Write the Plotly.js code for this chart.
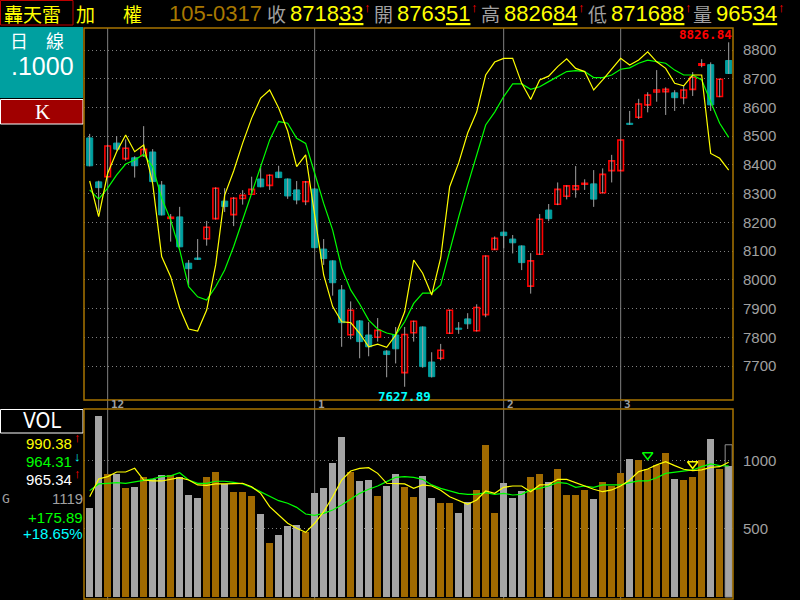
<!DOCTYPE html>
<html><head><meta charset="utf-8">
<script src="https://cdn.plot.ly/plotly-3.0.1.min.js"></script>
<style>html,body{margin:0;padding:0;background:#000;}#chart{width:800px;height:600px;}</style>
</head><body><div id="chart"></div>
<script>
// ---- data ----
const opens  = [8494,8341,8359,8476,8422,8425,8432,8445,8330,8214,8219,8058,8076,8143,8213,8274,8227,8283,8298,8351,8329,8375,8351,8313,8273,8316,8107,8066,7965,7809,7857,7808,7800,7752,7808,7677,7816,7836,7714,7727,7814,7832,7864,7823,7879,8106,8166,8142,8118,7978,8089,8243,8263,8291,8315,8333,8334,8303,8380,8380,8545,8566,8609,8654,8655,8651,8634,8663,8747,8749,8638,8763.51];
const highs  = [8508,8345,8470,8500,8489,8430,8535,8455,8344,8229,8254,8069,8142,8205,8322,8319,8288,8312,8359,8397,8367,8397,8353,8344,8344,8320,8142,8068,7982,7925,7860,7853,7867,7755,7836,7836,7858,7838,7748,7777,7896,7853,7884,7915,8085,8151,8168,8156,8120,8093,8229,8264,8339,8329,8396,8350,8382,8388,8435,8489,8588,8630,8653,8730,8670,8660,8678,8723,8768,8757,8700,8826.84];
const lows   = [8395,8237,8355,8450,8415,8356,8428,8340,8224,8133,8113,7980,8070,8119,8210,8236,8187,8262,8296,8322,8313,8354,8282,8263,8260,8110,8052,7945,7767,7793,7727,7734,7785,7661,7709,7627.89,7785,7694,7660,7720,7812,7812,7829,7820,7870,8104,8110,8092,8034,7952,8087,8204,8260,8280,8286,8313,8254,8301,8339,8378,8540,8560,8583,8620,8574,8588,8611,8640,8740,8588,8636,8716.88];
const closes = [8397,8321,8466,8455,8458,8397,8454,8342,8226,8218,8115,8039,8071,8183,8319,8255,8284,8294,8315,8324,8364,8356,8292,8278,8341,8112,8074,7990,7851,7894,7785,7767,7824,7740,7760,7810,7856,7698,7663,7755,7894,7828,7847,7904,8083,8145,8154,8129,8060,8066,8211,8213,8315,8327,8327,8336,8281,8367,8414,8487,8541,8612,8643,8661,8663,8634,8661,8705,8752,8609,8698,8718.33];
const lineYellow = [8344,8220,8371,8446,8504,8446,8469,8336,8081,8011,7902,7829,7822,7895,8052,8295,8379,8476,8563,8633,8661,8598,8518,8394,8435,8220,8017,7907,7854,7851,7814,7767,7776,7765,7808,7889,8069,8023,7947,8076,8324,8407,8511,8584,8713,8758,8771,8771,8684,8628,8696,8709,8742,8769,8736,8725,8661,8696,8733,8771,8748,8765,8794,8759,8736,8684,8675,8713,8713,8440,8423,8382];
const lineGreen  = [8313,8281,8319,8365,8403,8417,8437,8394,8284,8208,8104,7976,7941,7930,7976,8034,8116,8208,8301,8394,8487,8551,8545,8493,8475,8371,8266,8173,8041,7965,7916,7860,7829,7815,7808,7854,7918,7954,7954,7982,8104,8219,8330,8435,8539,8584,8638,8682,8682,8663,8672,8690,8707,8725,8728,8725,8704,8704,8713,8733,8738,8754,8765,8759,8754,8730,8713,8713,8696,8620,8545,8496];
const volumes = [657,1333,904,904,804,811,882,865,897,895,882,750,730,882,919,828,772,772,743,610,397,456,522,529,478,765,801,985,1176,922,853,860,743,819,904,809,735,890,728,691,691,618,699,787,1118,618,838,728,779,882,904,846,941,750,750,787,721,846,816,912,1015,1007,941,971,1059,868,860,882,1007,1162,943.11,965.34];
const volMA5  = [737,868,885,919,919,946,860,853,853,865,877,860,824,821,831,831,831,836,811,762,664,603,542,505,475,542,627,737,860,926,946,951,909,836,836,831,799,824,816,785,737,706,681,713,779,762,806,816,816,774,824,826,865,865,841,816,792,774,787,816,860,922,941,971,995,966,939,929,934,953,958,990.38];
const volMA10 = [782,831,836,841,836,846,860,868,885,890,914,860,836,836,851,851,843,831,806,774,737,708,689,659,610,600,615,640,676,718,762,792,816,848,880,885,880,865,824,799,782,762,755,755,767,755,762,750,755,787,799,816,843,836,806,816,806,824,824,824,841,853,853,877,909,917,922,934,958,978,966,964.31];
const volEstimate = 1119.00;
const signalIdx = [62, 67];
const signalVal = [1044, 978];
const signalColor = ['#00FF00', '#FFFF00'];
const monthIdx = [2, 25, 46, 59];
const monthLabels = ['12', '1', '2', '3'];
const priceTicks = [7700,7800,7900,8000,8100,8200,8300,8400,8500,8600,8700,8800];
const volTicks = [500, 1000];
const headerDate = '105-0317';

// ---- helpers ----
const X = px => px / 800;
const Y = py => 1 - py / 600;
const idx = opens.map((_, i) => i);
const CJK = '"Noto Sans CJK TC", "Noto Sans CJK SC", sans-serif';
const SANS = '"Liberation Sans", Arial, sans-serif';
const NARROW = '"Liberation Sans Narrow", "DejaVu Sans Condensed", "Liberation Sans", sans-serif';
const MONO = '"DejaVu Sans Mono", "Liberation Mono", monospace';
const GRAY = '#A0A0A0';
const BORDER = '#A87400';
const TEAL = '#00A0A0';

// wicks
const wx = [], wy = [];
idx.forEach(i => { wx.push(i, i, null); wy.push(lows[i], highs[i], null); });
const upI = idx.filter(i => closes[i] >= opens[i]);
const dnI = idx.filter(i => closes[i] < opens[i]);

const traces = [
  {type:'scatter', mode:'lines', x:wx, y:wy, xaxis:'x2', yaxis:'y2', line:{color:GRAY, width:1}, hoverinfo:'skip'},
  {type:'bar', x:upI, base:upI.map(i=>opens[i]), y:upI.map(i=>closes[i]-opens[i]), xaxis:'x2', yaxis:'y2', width:0.62,
   marker:{color:'#000000', line:{color:'#FF0000', width:1.6}}},
  {type:'bar', x:dnI, base:dnI.map(i=>closes[i]), y:dnI.map(i=>opens[i]-closes[i]), xaxis:'x2', yaxis:'y2', width:0.68,
   marker:{color:TEAL, line:{color:TEAL, width:1}}},
  {type:'scatter', mode:'lines', x:idx, y:lineGreen, xaxis:'x2', yaxis:'y2', line:{color:'#00FF00', width:1.2}},
  {type:'scatter', mode:'lines', x:idx, y:lineYellow, xaxis:'x2', yaxis:'y2', line:{color:'#FFFF00', width:1.2}},
  // volume
  {type:'bar', x:idx, y:volumes, xaxis:'x', yaxis:'y', width:0.78,
   marker:{color: idx.map(i => closes[i] >= opens[i] ? '#A06A00' : '#A4A4A4'), line:{width:0}}},
  {type:'bar', x:[idx.length-1], y:[volEstimate], xaxis:'x', yaxis:'y', width:0.78,
   marker:{color:'rgba(0,0,0,0)', line:{color:'#909090', width:1}}},
  {type:'scatter', mode:'lines', x:idx, y:volMA10, xaxis:'x', yaxis:'y', line:{color:'#00FF00', width:1.2}},
  {type:'scatter', mode:'lines', x:idx, y:volMA5, xaxis:'x', yaxis:'y', line:{color:'#FFFF00', width:1.2}},
  {type:'scatter', mode:'markers', x:signalIdx, y:signalVal, xaxis:'x', yaxis:'y',
   marker:{symbol:'triangle-down-open', size:9, color:signalColor, line:{color:signalColor, width:1.5}}}
];

const anns = [];
function ann(text, px, py, color, size, family, xanchor, bold) {
  anns.push({xref:'paper', yref:'paper', x:X(px), y:Y(py), text:text, showarrow:false,
    xanchor:xanchor||'left', yanchor:'middle', font:{color:color, size:size, family:family, weight: bold ? 'bold' : 'normal'}, borderpad:0});
}
function split(v) {
  const s = v.toFixed(2).replace('.', '');
  return s.slice(0, s.length-2) + '<u>' + s.slice(-2) + '</u>';
}
const L = idx.length - 1;
// header
ann('轟天雷', 3, 13, '#FFFF00', 19, CJK);
ann('加', 75, 13, '#FFFF00', 19, CJK);
ann('權', 122, 13, '#FFFF00', 19, CJK);
ann(headerDate, 168, 13, '#A87800', 22, SANS);
const hdr = [['收', closes[L], 266], ['開', opens[L], 373], ['高', highs[L], 480], ['低', lows[L], 587], ['量', volumes[L], 692]];
hdr.forEach(h => {
  ann(h[0], h[2], 13, GRAY, 19, CJK);
  const t = split(h[1]);
  const w = (h[1].toFixed(2).length - 1) * 12.2;
  ann(t, h[2] + 23, 13, '#FFFF00', 22, SANS);
  ann('↑', h[2] + 23 + w + 1, 7, '#FF0000', 13, SANS, 'left', true);
});
// left boxes
ann('日　線', 9, 40, '#FFFFFF', 18, CJK);
ann('.1000', 42, 66, '#FFFFFF', 25, SANS, 'center');
ann('K', 42, 112, '#FFFFFF', 21, '"Liberation Serif", serif', 'center');
ann('VOL', 42, 421, '#FFFFFF', 21, NARROW, 'center');
ann(volMA5[L].toFixed(2), 73, 443, '#FFFF00', 15, SANS, 'right');
ann('↑', 73, 437, '#FF0000', 13, SANS, 'left', true);
ann(volMA10[L].toFixed(2), 73, 461, '#00FF00', 15, SANS, 'right');
ann('↓', 73, 456, '#00FFFF', 13, SANS, 'left', true);
ann(volumes[L].toFixed(2), 73, 479, '#FFFFFF', 15, SANS, 'right');
ann('↑', 73, 473, '#FF0000', 13, SANS, 'left', true);
ann('G', 1, 498, GRAY, 13, MONO);
ann(String(Math.round(volEstimate)), 84, 498, GRAY, 15, SANS, 'right');
const diff = volEstimate - volumes[L-1];
ann('+' + diff.toFixed(2), 84, 517, '#00FF00', 15, SANS, 'right');
ann('+' + (diff / volumes[L-1] * 100).toFixed(2) + '%', 84, 533, '#00FFFF', 15, SANS, 'right');
// extreme labels
const hiMax = Math.max(...highs), loMin = Math.min(...lows);
anns.push({xref:'paper', yref:'y2', x:X(733), y:hiMax, text:hiMax.toFixed(2), showarrow:false, xanchor:'right', yanchor:'bottom', yshift:-1,
  font:{color:'#FF0000', size:12.5, family:MONO, weight:'bold'}, borderpad:0});
anns.push({xref:'x2', yref:'y2', x:lows.indexOf(loMin), y:loMin, text:loMin.toFixed(2), showarrow:false, xanchor:'center', yanchor:'top', yshift:-1,
  font:{color:'#00FFFF', size:12.5, family:MONO, weight:'bold'}, borderpad:0});
// month labels
monthIdx.forEach((m, k) => {
  anns.push({xref:'x', yref:'paper', x:m, y:Y(404.5), text:monthLabels[k], showarrow:false, xanchor:'left', yanchor:'middle', xshift:2,
    font:{color:GRAY, size:11, family:MONO, weight:'bold'}, borderpad:0});
});

const shapes = [];
// header frame
shapes.push({type:'rect', xref:'paper', yref:'paper', x0:X(0.5), x1:X(73), y0:Y(25), y1:Y(0.5), line:{color:'#C00000', width:1}});
// left boxes
shapes.push({type:'rect', xref:'paper', yref:'paper', x0:0, x1:X(83), y0:Y(98), y1:Y(27), fillcolor:TEAL, line:{width:0}});
shapes.push({type:'rect', xref:'paper', yref:'paper', x0:X(0.5), x1:X(83), y0:Y(124), y1:Y(99.5), fillcolor:'#A00000', line:{color:'#FFFFFF', width:1}});
shapes.push({type:'rect', xref:'paper', yref:'paper', x0:X(0.5), x1:X(83), y0:Y(433), y1:Y(409.5), fillcolor:'#000000', line:{color:'#FFFFFF', width:1}});
// month lines
monthIdx.forEach(m => shapes.push({type:'line', xref:'x', yref:'paper', x0:m, x1:m, y0:0, y1:Y(28), layer:'below', line:{color:'#808080', width:1}}));
// panel borders
shapes.push({type:'rect', xref:'paper', yref:'paper', x0:X(84), x1:X(733), y0:Y(400), y1:Y(28), line:{color:BORDER, width:1.5}});
shapes.push({type:'rect', xref:'paper', yref:'paper', x0:X(84), x1:X(733), y0:Y(599), y1:Y(409), line:{color:BORDER, width:1.5}});

const xr = [-0.63, 71.48];
const dom = [X(84), X(733)];
const tickFont = {color:GRAY, size:15, family:SANS};
const layout = {
  width:800, height:600, margin:{l:0, r:0, t:0, b:0},
  paper_bgcolor:'#000', plot_bgcolor:'#000', showlegend:false, barmode:'overlay', bargap:0,
  xaxis:{domain:dom, anchor:'y', range:xr, showticklabels:false, showgrid:false, zeroline:false, showline:false, fixedrange:true},
  xaxis2:{domain:dom, anchor:'y2', range:xr, matches:'x', showticklabels:false, showgrid:false, zeroline:false, showline:false},
  yaxis:{domain:[0, Y(409)], range:[-22, 1382], side:'right', tickvals:volTicks, ticktext:volTicks.map(String), ticks:'',
    ticklabelstandoff:9, tickfont:tickFont, showgrid:true, gridcolor:'#808080', gridwidth:1, griddash:'1px,3px', zeroline:false, showline:false},
  yaxis2:{domain:[Y(400), Y(28)], range:[7581.8, 8876.6], side:'right', tickvals:priceTicks, ticktext:priceTicks.map(String), ticks:'',
    ticklabelstandoff:9, tickfont:tickFont, showgrid:true, gridcolor:'#808080', gridwidth:1, griddash:'1px,3px', zeroline:false, showline:false},
  annotations:anns, shapes:shapes
};
Plotly.newPlot('chart', traces, layout, {staticPlot:true, displayModeBar:false});
</script>
</body></html>
